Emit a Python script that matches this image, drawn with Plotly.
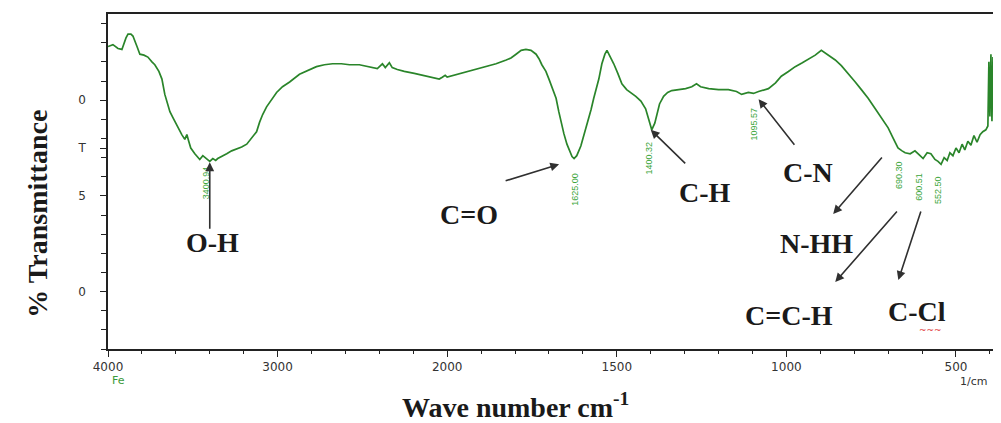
import plotly.graph_objects as go

# ---------------- data ----------------
wavenumber = [4000, 3971, 3941, 3918, 3894, 3882, 3865, 3853, 3829, 3812, 3788, 3765, 3741, 3724,
              3700, 3682, 3665, 3647, 3635, 3618, 3606, 3582, 3565, 3547, 3535, 3524, 3512, 3488,
              3471, 3459, 3441, 3418, 3400, 3382, 3365, 3353, 3329, 3300, 3271, 3241, 3212, 3182,
              3153, 3124, 3106, 3088, 3065, 3035, 3006, 2971, 2929, 2871, 2824, 2771, 2724, 2676,
              2624, 2576, 2518, 2459, 2412, 2382, 2365, 2341, 2324, 2294, 2253, 2194, 2124, 2076,
              2047, 2029, 2012, 2000, 1979, 1944, 1915, 1885, 1856, 1826, 1812, 1797, 1782, 1768,
              1753, 1738, 1729, 1721, 1709, 1700, 1691, 1679, 1671, 1665, 1656, 1647, 1638, 1632,
              1626, 1618, 1606, 1597, 1588, 1576, 1568, 1559, 1553, 1544, 1535, 1529, 1521, 1509,
              1497, 1485, 1471, 1456, 1444, 1429, 1415, 1406, 1397, 1388, 1382, 1374, 1362, 1350,
              1338, 1318, 1297, 1279, 1265, 1253, 1229, 1200, 1171, 1147, 1132, 1112, 1097, 1082,
              1053, 1032, 1015, 994, 974, 953, 935, 915, 897, 876, 856, 838, 818, 797, 779, 759,
              738, 721, 700, 685, 671, 659, 650, 635, 621, 609, 597, 585, 574, 562, 553, 544, 535,
              526, 518, 509, 500, 491, 482, 474, 465, 456, 447, 438, 429, 421, 412, 406, 403, 400,
              397, 394, 391, 388]
transmittance = [31.6, 31.8, 31.4, 31.3, 32.5, 32.9, 32.9, 32.7, 31.6, 30.8, 30.7, 30.5, 30.0, 29.7,
                 29.0, 28.2, 26.6, 25.5, 24.8, 24.2, 23.8, 22.9, 22.4, 21.9, 22.4, 21.7, 21.0, 20.4,
                 20.0, 19.8, 20.2, 19.9, 19.6, 19.9, 19.7, 19.9, 20.1, 20.4, 20.7, 20.9, 21.1, 21.4,
                 22.0, 22.7, 23.7, 24.5, 25.3, 26.1, 26.8, 27.4, 27.9, 28.7, 29.1, 29.5, 29.7, 29.8,
                 29.8, 29.7, 29.7, 29.5, 29.3, 29.8, 29.4, 29.9, 29.4, 29.2, 29.0, 28.8, 28.5, 28.3,
                 28.2, 28.4, 28.6, 28.4, 28.6, 29.0, 29.2, 29.5, 29.8, 30.2, 30.4, 30.8, 31.2, 31.3,
                 31.2, 30.8, 30.3, 29.7, 29.0, 28.2, 27.3, 26.2, 24.8, 23.8, 22.5, 21.4, 20.7, 20.1,
                 19.9, 20.2, 21.2, 22.3, 23.6, 25.0, 26.2, 27.3, 28.2, 29.8, 30.8, 31.2, 30.7, 29.8,
                 28.8, 27.7, 27.1, 26.7, 26.4, 25.9, 25.1, 24.0, 22.9, 23.6, 24.5, 25.6, 26.4, 26.8,
                 27.0, 27.1, 27.2, 27.4, 27.7, 27.4, 27.2, 27.1, 27.1, 26.9, 26.6, 26.8, 26.7, 26.9,
                 27.2, 27.8, 28.5, 29.0, 29.5, 29.9, 30.3, 30.7, 31.2, 30.7, 30.2, 29.6, 28.8, 27.9,
                 27.1, 26.2, 25.1, 24.2, 23.1, 22.0, 21.0, 20.7, 20.5, 20.4, 20.7, 20.3, 19.9, 20.5,
                 20.4, 19.8, 19.6, 19.3, 20.0, 19.7, 20.5, 20.2, 21.0, 20.5, 21.4, 20.8, 21.7, 21.3,
                 22.3, 21.6, 22.4, 22.7, 22.9, 23.3, 30.0, 24.3, 30.8, 23.8, 30.5, 25.9]

x_tick_values = [4000, 3000, 2000, 1500, 1000, 500]
x_tick_labels = ["4000", "3000", "2000", "1500", "1000", "500"]
y_tick_values = [6, 16, 21, 26]
y_tick_labels = ["0", "5", "T", "0"]

peak_wavenumbers = [3400.94, 1625.00, 1400.32, 1095.57, 690.30, 600.51, 552.50]
peak_labels = ["3400.94", "1625.00", "1400.32", "1095.57", "690.30", "600.51", "552.50"]

group_labels = ["O-H", "C=O", "C-H", "C-N", "N-HH", "C=C-H", "C-Cl"]


# Shimadzu-style axis: 4000-2000 at half the scale of 2000-400
def to_u(w):
    return 4000 - w if w >= 2000 else 2000 + 2 * (2000 - w)


u_vals = [to_u(w) for w in wavenumber]

GREEN = "#2a852a"
INK = "#1a1a1a"
SERIF = "Liberation Serif"

fig = go.Figure()
fig.add_trace(go.Scatter(x=u_vals, y=transmittance, mode="lines",
                         line=dict(color=GREEN, width=1.7), hoverinfo="skip",
                         showlegend=False))

# peak labels (vertical, green)
peak_pos = [  # (top of label in T units, xshift px)
    (19.3, -4), (18.6, 1), (21.9, -2), (25.5, 0), (19.9, 7), (18.6, -3), (18.3, 0)]
for w, lab, (ytop, xs) in zip(peak_wavenumbers, peak_labels, peak_pos):
    fig.add_annotation(x=to_u(w), y=ytop, text=lab, showarrow=False, textangle=-90,
                       xanchor="center", yanchor="top", xshift=xs,
                       font=dict(family="Liberation Sans Narrow, Liberation Sans", size=9, color="#3aa53a"))

# group labels (bold serif)
label_pos = [(3382, 11.1), (1935, 14.1), (1241, 16.3), (936, 18.4), (912, 11.0), (991, 3.5), (614, 3.9)]
for lab, (w, t) in zip(group_labels, label_pos):
    fig.add_annotation(x=to_u(w), y=t, text=f"<b>{lab}</b>", showarrow=False,
                       xanchor="center", yanchor="middle",
                       font=dict(family=SERIF, size=28, color=INK))

# arrows: head (wavenumber, T) and tail offset in px
arrows = [((3400, 19.5), (0, 68)), ((1670, 19.3), (-55, 17)), ((1400, 22.9), (36, 35)),
          ((1082, 26.1), (37, 47)), ((862, 14.1), (50, -58)), ((856, 7.0), (63, -72)),
          ((670, 7.2), (23, -70))]
for (w, t), (ax, ay) in arrows:
    fig.add_annotation(x=to_u(w), y=t, ax=ax, ay=ay, axref="pixel", ayref="pixel",
                       text="", showarrow=True, arrowhead=2, arrowsize=1.1,
                       arrowwidth=1.6, arrowcolor="#303030")

# red spell-check squiggle under "Cl"
fig.add_annotation(x=to_u(574), y=2.0, text="~~~", showarrow=False,
                   font=dict(family="DejaVu Sans", size=9, color="#e03030"))

# axis titles & corner texts (page has an 8 px body margin -> figure is 8 px smaller)
fig.add_annotation(xref="paper", yref="paper", x=(516 - 108) / 889, y=(349 - 406) / 337,
                   text="<b>Wave number cm<sup>-1</sup></b>", showarrow=False,
                   xanchor="center", yanchor="middle",
                   font=dict(family=SERIF, size=28, color=INK))
fig.add_annotation(xref="paper", yref="paper", x=0, xshift=-70, y=(349 - 213) / 337,
                   text="<b>% Transmittance</b>", showarrow=False, textangle=-90,
                   xanchor="center", yanchor="middle",
                   font=dict(family=SERIF, size=28, color=INK))
fig.add_annotation(xref="paper", yref="paper", x=0, xshift=10, y=(349 - 381) / 337,
                   text="Fe", showarrow=False, xanchor="center", yanchor="middle",
                   font=dict(family="DejaVu Sans", size=11, color="#3a9a3a"))
fig.add_annotation(xref="paper", yref="paper", x=1, xshift=-22, y=(349 - 382) / 337,
                   text="1/cm", showarrow=False, xanchor="center", yanchor="middle",
                   font=dict(family="DejaVu Sans", size=11, color="#333"))

fig.update_xaxes(range=[0, to_u(385)], tickvals=[to_u(v) for v in x_tick_values],
                 ticktext=x_tick_labels, ticks="outside", ticklen=6, tickwidth=1.3,
                 tickcolor="#222", showline=True, linecolor="#222", linewidth=1.6,
                 mirror=True, showgrid=False, zeroline=False,
                 tickfont=dict(family="DejaVu Sans", size=12, color="#333"),
                 minor=dict(dtick=200, tick0=0, ticks="outside", ticklen=3,
                            tickcolor="#222", tickwidth=1.2, showgrid=False))
fig.update_yaxes(range=[0, 35], tickvals=y_tick_values, ticktext=y_tick_labels,
                 ticks="outside", ticklen=6, tickwidth=1.3, tickcolor="#222",
                 showline=True, linecolor="#222", linewidth=1.6, mirror=True,
                 showgrid=False, zeroline=False, ticklabelstandoff=12,
                 tickfont=dict(family="DejaVu Sans", size=12, color="#333"),
                 minor=dict(dtick=2, tick0=0, ticks="outside", ticklen=5,
                            tickcolor="#222", tickwidth=1.2, showgrid=False))

fig.update_layout(width=993, height=415, autosize=False,
                  margin=dict(l=100, r=4, t=4, b=74),
                  paper_bgcolor="white", plot_bgcolor="white")

fig.write_html("out.html")
